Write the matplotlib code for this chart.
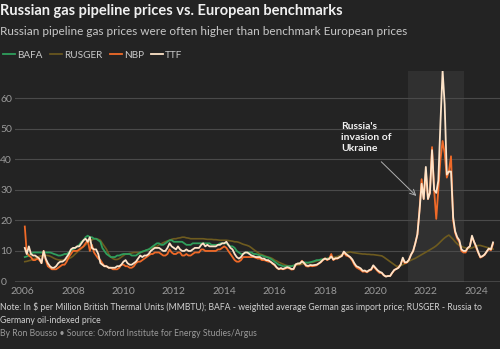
import pandas as pd
import matplotlib
matplotlib.use('Agg')
from matplotlib import pyplot as plt

# monthly prices, $/MMBtu, Jan 2006 onwards (one row per year)
ttf = [
    11.0, 9.0, 11.5, 9.0, 8.5, 8.5, 8.0, 7.5, 6.0, 10.0, 7.5, 6.0,
    5.0, 4.5, 4.5, 5.0, 6.0, 6.5, 6.5, 7.0, 8.0, 9.0, 10.5, 11.0,
    11.0, 11.5, 11.5, 12.5, 13.5, 14.0, 13.0, 14.5, 11.0, 10.5, 10.5, 9.0,
    6.0, 5.5, 5.0, 5.0, 4.5, 4.5, 4.5, 4.5, 5.0, 5.0, 5.5, 6.5,
    7.0, 6.0, 5.5, 5.5, 6.0, 6.5, 7.5, 8.5, 8.0, 8.5, 8.5, 9.0,
    10.0, 10.5, 11.0, 11.0, 11.0, 10.5, 10.0, 10.0, 11.0, 12.5, 11.5, 11.0,
    10.5, 11.5, 10.5, 10.0, 10.0, 10.5, 10.0, 10.0, 10.5, 11.0, 11.0, 11.0,
    12.0, 12.5, 11.5, 12.0, 11.5, 11.5, 11.5, 11.5, 12.0, 12.0, 12.5, 12.5,
    13.0, 12.0, 11.0, 10.5, 9.0, 8.0, 7.5, 8.0, 9.0, 9.5, 9.5, 9.0,
    8.5, 8.3, 8.0, 8.0, 8.0, 7.5, 7.5, 7.0, 7.0, 6.5, 6.0, 5.5,
    4.6, 4.1, 4.4, 4.1, 4.4, 4.7, 4.5, 4.1, 4.1, 5.6, 5.9, 5.9,
    6.6, 6.1, 5.3, 5.1, 5.4, 5.3, 5.4, 5.5, 5.9, 6.4, 7.1, 7.5,
    7.2, 7.4, 8.2, 7.2, 7.6, 7.6, 8.0, 8.4, 9.8, 9.0, 8.5, 8.0,
    7.2, 6.0, 5.0, 4.7, 4.3, 3.5, 3.6, 3.2, 3.7, 4.0, 5.3, 4.5,
    3.7, 3.2, 2.9, 2.1, 1.6, 1.8, 1.8, 2.9, 3.8, 4.1, 4.5, 5.5,
    7.8, 6.3, 6.3, 7.1, 8.8, 10.0, 12.5, 15.5, 23.0, 32.0, 27.0, 37.5,
    27.0, 29.0, 43.0, 30.0, 29.0, 33.0, 52.0, 69.0, 58.0, 35.0, 36.0, 36.0,
    21.0, 16.5, 14.5, 13.5, 10.5, 10.0, 10.0, 11.0, 11.5, 15.0, 13.0, 11.5,
    9.5, 8.0, 8.3, 8.8, 9.8, 10.8, 10.5, 12.8,
]

nbp = [
    18.0, 9.5, 8.5, 8.0, 7.0, 7.0, 7.5, 7.0, 6.0, 10.0, 7.0, 5.0,
    4.5, 4.0, 4.0, 4.0, 4.5, 5.0, 5.5, 5.5, 6.5, 8.0, 9.0, 10.0,
    10.0, 10.0, 10.5, 11.0, 11.5, 12.5, 13.5, 10.0, 12.0, 9.5, 8.5, 7.5,
    7.0, 6.0, 5.0, 5.0, 4.5, 4.5, 4.0, 4.0, 4.0, 4.5, 5.5, 5.5,
    5.0, 5.0, 4.5, 4.5, 5.0, 6.0, 6.5, 6.5, 7.0, 7.5, 8.0, 8.5,
    9.0, 9.0, 9.5, 9.5, 9.5, 9.0, 8.5, 8.5, 9.0, 10.5, 9.5, 9.0,
    9.0, 9.5, 9.5, 8.5, 8.5, 9.0, 8.5, 8.5, 9.0, 9.5, 9.5, 9.5,
    10.5, 10.5, 10.0, 10.0, 10.0, 10.0, 10.0, 10.0, 10.5, 10.5, 11.0, 11.5,
    11.0, 10.0, 9.0, 8.0, 7.0, 6.5, 6.5, 7.0, 8.0, 8.0, 8.0, 8.0,
    8.0, 8.0, 7.8, 7.5, 7.5, 7.0, 7.0, 6.8, 6.5, 6.5, 5.8, 5.3,
    4.5, 4.0, 4.2, 4.0, 4.2, 4.5, 4.3, 3.9, 4.0, 5.5, 5.8, 5.8,
    6.8, 6.0, 5.0, 4.9, 5.1, 5.0, 5.1, 5.3, 5.8, 6.3, 7.0, 7.6,
    7.0, 7.4, 9.0, 7.0, 7.5, 7.5, 8.0, 8.3, 9.6, 8.5, 8.3, 7.8,
    6.8, 5.5, 4.6, 4.2, 3.8, 3.2, 3.3, 3.0, 3.5, 3.8, 5.0, 4.2,
    3.4, 2.8, 2.8, 2.0, 1.7, 1.8, 1.8, 2.8, 3.7, 4.2, 4.6, 5.6,
    7.3, 6.0, 6.2, 7.1, 8.8, 9.9, 12.5, 15.3, 23.5, 33.5, 27.0, 36.0,
    27.0, 29.0, 44.0, 30.0, 20.5, 30.0, 40.0, 46.0, 42.0, 34.0, 36.0, 41.0,
    20.0, 16.0, 14.0, 13.0, 10.0, 9.5, 9.5, 11.0, 11.5, 14.5, 13.0, 11.0,
    9.3, 7.8, 8.2, 8.7, 9.7, 10.6, 10.2, 12.3,
]

bafa = [
    8.0, 8.2, 8.5, 9.0, 9.5, 9.5, 9.5, 9.5, 9.5, 9.5, 9.5, 9.5,
    9.5, 9.3, 9.0, 8.8, 8.5, 8.5, 8.7, 9.0, 9.0, 9.5, 10.0, 10.5,
    11.0, 11.5, 12.0, 13.0, 13.5, 14.5, 15.0, 14.5, 14.5, 14.0, 14.0, 13.5,
    13.0, 11.0, 10.0, 9.0, 8.5, 8.0, 8.0, 8.0, 8.5, 8.5, 8.8, 9.0,
    9.0, 9.0, 9.0, 8.5, 8.5, 8.5, 9.0, 9.5, 9.8, 10.0, 10.3, 10.5,
    11.0, 11.5, 12.0, 12.5, 12.5, 12.0, 12.0, 12.5, 13.0, 13.5, 13.5, 13.0,
    13.0, 13.0, 13.0, 13.0, 12.5, 12.0, 12.0, 12.0, 12.5, 12.5, 12.5, 12.5,
    12.5, 12.5, 12.5, 12.5, 12.5, 12.0, 12.0, 12.0, 12.0, 12.5, 12.5, 12.5,
    12.5, 12.0, 11.5, 11.5, 11.0, 10.0, 9.5, 9.0, 9.0, 9.5, 9.5, 9.5,
    9.5, 9.0, 9.0, 8.8, 8.5, 8.5, 8.2, 8.0, 7.8, 7.5, 7.0, 6.5,
    6.0, 5.5, 5.3, 5.0, 5.0, 5.0, 5.0, 5.0, 5.2, 5.5, 5.8, 6.0,
    6.3, 6.3, 6.2, 6.2, 6.3, 6.5, 6.7, 7.0, 7.0, 7.2, 7.3, 7.4,
    7.5, 7.6,
]

rusger = [
    6.5, 6.6, 6.8, 7.0, 7.3, 7.6, 8.0, 8.2, 8.4, 8.5, 8.5, 8.5,
    8.3, 8.0, 7.6, 7.3, 7.1, 7.0, 7.0, 7.1, 7.3, 7.5, 7.8, 8.3,
    9.0, 9.6, 10.2, 10.8, 11.4, 12.0, 12.6, 13.1, 13.6, 14.0, 14.0, 13.8,
    13.5, 12.5, 11.5, 10.5, 9.0, 8.0, 7.5, 7.2, 7.2, 7.5, 8.0, 8.5,
    9.0, 9.0, 9.2, 9.3, 9.5, 9.5, 9.5, 9.5, 9.7, 10.0, 10.3, 10.5,
    10.8, 11.0, 11.3, 11.5, 12.0, 12.3, 12.7, 13.0, 13.3, 13.5, 13.8, 14.0,
    14.0, 14.2, 14.3, 14.5, 14.5, 14.3, 14.2, 14.0, 14.0, 14.0, 14.0, 14.0,
    14.0, 14.0, 13.9, 13.8, 13.8, 13.8, 13.7, 13.7, 13.6, 13.5, 13.5, 13.5,
    13.5, 13.4, 13.3, 13.2, 13.0, 13.0, 12.8, 12.5, 12.2, 12.0, 11.8, 11.5,
    11.0, 10.5, 10.0, 9.5, 9.0, 8.8, 8.5, 8.2, 8.0, 7.8, 7.5, 7.0,
    6.7, 6.3, 6.0, 5.7, 5.4, 5.2, 5.1, 5.1, 5.2, 5.3, 5.4, 5.5,
    5.7, 5.9, 6.0, 6.1, 6.2, 6.3, 6.5, 6.7, 6.9, 7.0, 7.2, 7.3,
    7.5, 7.6, 7.8, 7.9, 8.0, 8.2, 8.5, 8.8, 9.0, 9.3, 9.5, 9.7,
    9.5, 9.4, 9.3, 9.2, 9.1, 9.0, 9.0, 8.9, 8.9, 8.8, 8.8, 8.7,
    8.6, 8.5, 8.4, 8.0, 7.5, 7.0, 6.5, 6.0, 5.5, 5.0, 5.0, 5.2,
    5.5, 5.8, 6.2, 6.6, 7.0, 7.3, 7.6, 8.0, 8.4, 8.8, 9.2, 9.6,
    10.0, 10.4, 10.8, 11.2, 11.7, 12.3, 13.0, 13.7, 14.3, 14.8, 15.2, 14.5,
    13.8, 13.0, 12.3, 11.8, 11.5, 11.2, 11.0, 10.8, 10.8, 11.0, 11.3, 11.6,
    11.8, 11.8, 11.6, 11.4, 11.2, 11.0, 10.8, 10.6,
]

year_ticks = list(range(2006, 2025, 2))
invasion_span = ('2021-04-10', '2023-07-08')

dates = pd.date_range('2006-01-31', periods=len(ttf), freq='ME')

bg = '#232323'
plt.rcParams['font.family'] = ['Lato', 'DejaVu Sans']

fig = plt.figure(figsize=(5, 3.49), dpi=100, facecolor=bg)
ax = fig.add_axes([0.03, 0.1934, 0.97, 0.604], facecolor=bg)

ax.axvspan(pd.Timestamp(invasion_span[0]), pd.Timestamp(invasion_span[1]),
           color='#303030', lw=0, zorder=0)

ax.plot(dates[:len(rusger)], rusger, c='#6e5b1f', lw=1.2, label='RUSGER', zorder=3)
ax.plot(dates[:len(bafa)], bafa, c='#2f9e5c', lw=1.3, label='BAFA', zorder=4)
ax.plot(dates[:len(nbp)], nbp, c='#f06a28', lw=1.3, label='NBP', zorder=5)
ax.plot(dates, ttf, c='#fde3c8', lw=1.3, label='TTF', zorder=6)

ax.set_ylim(0, 69)
ax.set_yticks([0, 10, 20, 30, 40, 50, 60])
ax.set_xlim(pd.Timestamp('2005-09-11'), pd.Timestamp('2024-12-10'))
ax.set_xticks([pd.Timestamp(f'{y}-01-01') for y in year_ticks])
ax.set_xticklabels([str(y) for y in year_ticks])

ax.grid(axis='y', color='#4a4a4a', lw=0.8, zorder=1)
ax.axhline(0, color='#c8c8c8', lw=1.0, zorder=7)
for s in ax.spines.values():
    s.set_visible(False)
ax.tick_params(axis='both', length=0, colors='#9a9a9a', labelsize=7.5)
ax.tick_params(axis='x', pad=4)
ax.tick_params(axis='y', pad=10.6)
for lab in ax.get_yticklabels():
    lab.set_horizontalalignment('left')

# annotation: text and arrow drawn separately
ax.text(pd.Timestamp('2018-08-20'), 52.3, "Russia's\ninvasion of\nUkraine",
        fontsize=7.5, fontweight='bold', color='#f2f2f2', va='top', ha='left',
        linespacing=1.3, zorder=8)
ax.annotate('', xy=(pd.Timestamp('2021-08-15'), 28), xytext=(pd.Timestamp('2020-03-25'), 39.2),
            arrowprops=dict(arrowstyle='->', color='#b0b0b0', lw=0.7,
                            shrinkA=0, shrinkB=0), zorder=8)

fig.text(0.0, 0.968, "Russian gas pipeline prices vs. European benchmarks",
         fontsize=10.5, fontweight='bold', color='#f0f0f0', va='center', ha='left')
fig.text(0.0, 0.911, "Russian pipeline gas prices were often higher than benchmark European prices",
         fontsize=8.5, color='#c8c8c8', va='center', ha='left')

handles, labels = ax.get_legend_handles_labels()
order = [1, 0, 2, 3]
leg = fig.legend([handles[i] for i in order], [labels[i] for i in order],
                 loc='center left', bbox_to_anchor=(-0.012, 0.842), ncol=4,
                 frameon=False, fontsize=7.2, handlelength=1.2, handletextpad=0.2,
                 columnspacing=0.75, labelcolor='#c8c8c8')

fig.text(0.0, 0.1017, "Note: In $ per Million British Thermal Units (MMBTU); BAFA - weighted average German gas import price; RUSGER - Russia to\nGermany oil-indexed price",
         fontsize=6.2, color='#d0d0d0', va='center', ha='left', linespacing=1.45)
fig.text(0.0, 0.043, "By Ron Bousso \u2022 Source: Oxford Institute for Energy Studies/Argus",
         fontsize=6.2, color='#9a9a9a', va='center', ha='left')

plt.savefig('out.png', dpi=100, facecolor=bg)
